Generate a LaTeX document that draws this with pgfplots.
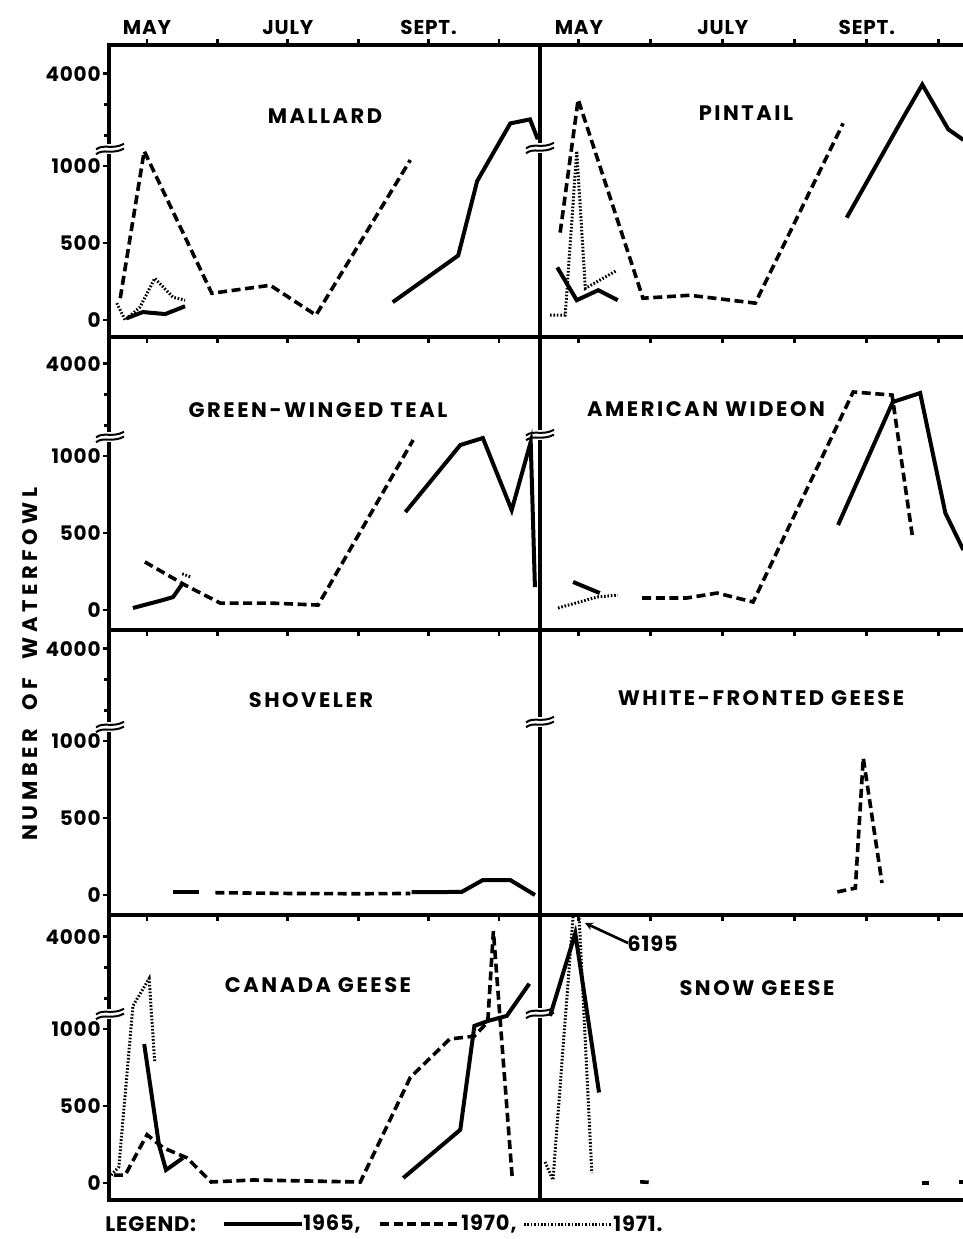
\documentclass[border=0pt]{standalone}
\usepackage{pgfplots}
\pgfplotsset{compat=1.18}
\usetikzlibrary{arrows.meta}
\usepackage{fontspec}
\setmainfont{Poppins}
\newfontfamily\ttl[LetterSpace=12]{Poppins}
\newfontfamily\lab[LetterSpace=4]{Poppins}
\newfontfamily\ylab[LetterSpace=22]{Poppins}

\pgfplotsset{
  wf/.style={scale only axis, clip=true,
    axis line style={line width=2pt},
    tick align=outside,
    major tick length=3pt, minor tick length=2.5pt,
    every tick/.style={black, line width=1.4pt},
    y filter/.expression={y<=1000 ? y : 1000+(y-1000)*0.2},
    tick label style={font=\lab\bfseries\fontsize{10}{11}\selectfont},
    y tick label style={inner sep=1pt},
    xtick={5,6,7,8,9,10},
  },
  leftcol/.style={wf, width=215.5pt, xmin=4.46, xmax=10.582,
     ytick={0,500,1000,1600}, yticklabels={0,500,1000,4000},
     minor ytick={1200,1400}, ytick pos=left},
  rightcol/.style={wf, width=217.5pt, xmin=4.46, xmax=10.502, ytick=\empty, minor ytick={}},
  row1/.style={height=146pt, ymin=-110, ymax=1786, xtick pos=both, xticklabel pos=upper,
     xticklabels={MAY,,JULY,,SEPT.,},
     x tick label style={font=\lab\bfseries\fontsize{10}{12}\selectfont, yshift=-1.5pt}},
  row2/.style={height=146.5pt, ymin=-130, ymax=1773, xtick pos=lower, xticklabels={,,,,,}},
  row3/.style={height=142.5pt, ymin=-130, ymax=1721, xtick pos=lower, xticklabels={,,,,,}},
  row4/.style={height=142.5pt, ymin=-110, ymax=1740, xtick=\empty},
  s65/.style={black, line width=2pt, solid, no marks},
  s70/.style={black, line width=1.8pt, dash pattern=on 4.5pt off 2.3pt, no marks},
  s71/.style={black, line width=1.5pt, dash pattern=on 0.8pt off 0.9pt, no marks},
}

\newcommand{\brk}[2]{%
  \begin{scope}[shift={({#1*0.5pt},{-#2*0.5pt})}]
    \fill[white] (-2pt,-2.3pt) rectangle (2pt,2.3pt);
    \draw[line width=1pt] (-7pt,-2.6pt) .. controls (-3pt,0.4pt) and (1pt,-3pt) .. (7pt,0.2pt);
    \draw[line width=1pt] (-7pt,-0.2pt) .. controls (-3pt,2.8pt) and (1pt,-0.6pt) .. (7pt,2.6pt);
  \end{scope}}

\begin{document}
\begin{tikzpicture}

% ---------------- Row 1 ----------------
\begin{axis}[leftcol,row1, at={(54.5pt,-168.5pt)}, anchor=south west]
\addplot[s65] coordinates {(4.72,13)(4.94,52)(5.26,39)(5.54,90)};
\addplot[s65] coordinates {(8.49,116)(9.42,419)(9.69,903)(10.16,2385)(10.44,2515)(10.55,1870)};
\addplot[s70] coordinates {(4.62,142)(4.96,1485)(5.92,174)(6.75,226)(7.40,32)(8.74,1195)};
\addplot[s71] coordinates {(4.57,110)(4.69,0)(4.90,84)(5.11,271)(5.37,148)(5.54,129)};
\end{axis}
\begin{axis}[rightcol,row1, at={(270pt,-168.5pt)}, anchor=south west]
\addplot[s65] coordinates {(4.70,342)(4.97,129)(5.27,194)(5.54,129)};
\addplot[s65] coordinates {(8.72,665)(9.49,2515)(9.77,3645)(10.13,2195)(10.34,1850)};
\addplot[s70] coordinates {(4.74,568)(4.99,3160)(5.89,142)(6.54,161)(7.45,110)(8.67,2385)};
\addplot[s71] coordinates {(4.60,32)(4.81,32)(4.97,1485)(5.09,206)(5.53,323)};
\end{axis}

% ---------------- Row 2 ----------------
\begin{axis}[leftcol,row2, at={(54.5pt,-315pt)}, anchor=south west]
\addplot[s65] coordinates {(4.80,13)(5.23,65)(5.37,84)(5.51,175)};
\addplot[s65] coordinates {(8.67,636)(9.45,1357)(9.77,1585)(10.18,649)(10.45,1455)(10.51,149)};
\addplot[s70] coordinates {(4.97,312)(5.54,162)(6.04,45)(6.75,45)(7.43,32)(8.78,1520)};
\addplot[s71] coordinates {(5.50,235)(5.62,215)};
\end{axis}
\begin{axis}[rightcol,row2, at={(270pt,-315pt)}, anchor=south west]
\addplot[s65] coordinates {(4.92,182)(5.29,110)};
\addplot[s65] coordinates {(8.60,552)(9.36,2755)(9.74,3045)(10.09,630)(10.34,390)};
\addplot[s70] coordinates {(5.88,78)(6.50,78)(6.92,110)(7.42,52)(8.81,3080)(9.35,2980)(9.63,487)};
\addplot[s71] coordinates {(4.71,13)(5.25,84)(5.54,97)};
\end{axis}

% ---------------- Row 3 ----------------
\begin{axis}[leftcol,row3, at={(54.5pt,-457.5pt)}, anchor=south west]
\addplot[s65] coordinates {(5.37,20)(5.74,20)};
\addplot[s70] coordinates {(5.97,15)(7.00,10)(8.00,8)(8.74,10)};
\addplot[s65] coordinates {(8.76,18)(9.47,20)(9.77,97)(10.16,97)(10.51,0)};
\end{axis}
\begin{axis}[rightcol,row3, at={(270pt,-457.5pt)}, anchor=south west]
\addplot[s70] coordinates {(8.59,20)(8.84,45)(8.95,890)(9.21,78)};
\end{axis}

% ---------------- Row 4 ----------------
\begin{axis}[leftcol,row4, at={(54.5pt,-600pt)}, anchor=south west]
\addplot[s65] coordinates {(4.96,902)(5.17,248)(5.27,85)(5.51,163)};
\addplot[s65] coordinates {(8.64,33)(9.45,346)(9.65,1100)(9.84,1260)(10.11,1425)(10.43,2470)};
\addplot[s70] coordinates {(4.53,52)(4.69,52)(5.00,314)(5.23,229)(5.57,163)(5.91,7)(6.51,20)(8.03,7)(8.74,686)(9.30,935)(9.65,954)(9.84,1230)(9.92,4170)(10.19,20)};
\addplot[s71] coordinates {(4.49,52)(4.60,105)(4.80,1750)(5.03,2635)(5.11,784)};
\end{axis}
\begin{axis}[rightcol,row4, at={(270pt,-600pt)}, anchor=south west]
\addplot[s65] coordinates {(4.60,1425)(4.95,4105)(5.28,588)};
\addplot[s71] coordinates {(4.53,137)(4.64,20)(4.97,6195)(5.18,65)};
\addplot[s70] coordinates {(5.85,8)(5.97,5)};
\addplot[s70] coordinates {(9.76,0)(9.86,0)};
\addplot[s70] coordinates {(10.28,5)(10.34,5)};
\end{axis}

% ---------------- breaks ----------------
\brk{110}{149}\brk{540}{148}
\brk{110}{437}\brk{540}{435}
\brk{110}{727}\brk{540}{722}
\brk{110}{1014}\brk{540}{1013}

% ---------------- titles ----------------
\begin{scope}[every node/.style={font=\ttl\bfseries\fontsize{10.5}{12}\selectfont}]
\node at (162.5pt,-58pt) {MALLARD};
\node at (373pt,-56.5pt) {PINTAIL};
\node at (159pt,-205pt) {GREEN-WINGED TEAL};
\node at (353pt,-204.5pt) {AMERICAN WIDEON};
\node at (155.5pt,-350pt) {SHOVELER};
\node at (380.5pt,-349pt) {WHITE-FRONTED GEESE};
\node at (159pt,-492.5pt) {CANADA GEESE};
\node at (378.5pt,-494pt) {SNOW GEESE};
\end{scope}

% annotation
\draw[line width=1.3pt, -{Stealth[length=4pt,width=4pt]}] (314pt,-471.5pt) -- (292.5pt,-461.5pt);
\node[anchor=west, font=\lab\bfseries\fontsize{10.5}{12}\selectfont, inner sep=0pt] at (313.5pt,-472pt) {6195};

% y label
\node[rotate=90, font=\ylab\bfseries\fontsize{10.5}{12}\selectfont] at (15pt,-332pt) {NUMBER\ \ OF\ \ WATERFOWL};

% legend
\begin{scope}[every node/.style={font=\lab\bfseries\fontsize{10.5}{12}\selectfont, anchor=west, inner sep=0pt}]
\node at (52.5pt,-612pt) {LEGEND:};
\draw[line width=2pt] (112pt,-612pt) -- (151pt,-612pt);
\node at (151.5pt,-612pt) {1965,};
\draw[line width=1.8pt, dash pattern=on 4.5pt off 2.3pt] (190pt,-612pt) -- (230pt,-612pt);
\node at (230.5pt,-612pt) {1970,};
\draw[line width=1.5pt, dash pattern=on 0.8pt off 0.9pt] (262pt,-612pt) -- (306pt,-612pt);
\node at (306.5pt,-612pt) {1971.};
\end{scope}

\pgfresetboundingbox
\path[use as bounding box] (0,0) rectangle (481.5pt,-619.5pt);
\end{tikzpicture}
\end{document}
